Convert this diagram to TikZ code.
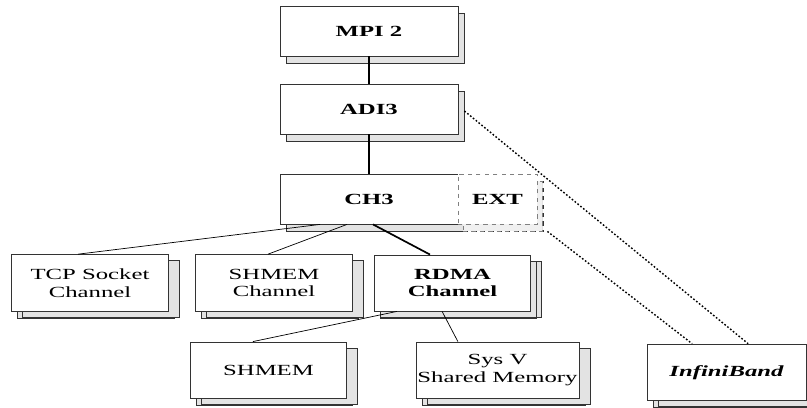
\documentclass[tikz,border=0pt]{standalone}
\usepackage{fontspec}
\setmainfont[FakeStretch=1.6]{Liberation Serif}
\usepackage{tikz}
\usetikzlibrary{shadows}

\begin{document}
\begin{tikzpicture}[
    unit/.style={
        rectangle, draw=black!80, fill=white,
        line width=0.6pt,
        minimum width=4.45cm,
        minimum height=1.25cm,
        align=center, inner sep=1pt,
        font=\fontsize{11}{12.5}\selectfont,
        general shadow={shadow xshift=0.15cm, shadow yshift=-0.175cm,
            fill=gray!22, draw=black!80, line width=0.6pt}
    },
    chan/.style={
        unit, minimum width=3.92cm, minimum height=1.42cm,
        general shadow={shadow xshift=0.275cm, shadow yshift=-0.15cm,
            fill=gray!22, draw=black!80, line width=0.6pt}
    },
    link/.style={line width=0.5pt},
    mainlink/.style={line width=1.2pt},
    hw/.style={line width=1pt, dash pattern=on 1.2pt off 1.4pt}
]
\useasboundingbox (0,0) rectangle (20.175,10.175);

\node[unit, font=\fontsize{11}{12.5}\selectfont\bfseries]
    (mpi) at (9.225,9.4) {MPI 2};
\node[unit, font=\fontsize{11}{12.5}\selectfont\bfseries]
    (adi) at (9.225,7.45) {ADI3};
\node[unit, font=\fontsize{11}{12.5}\selectfont\bfseries]
    (ch3) at (9.225,5.2) {CH3};
\node[unit, minimum width=1.975cm, draw=gray, dashed,
    font=\fontsize{11}{12.5}\selectfont\bfseries,
    general shadow={shadow xshift=0.125cm, shadow yshift=-0.175cm,
        fill=gray!12, draw=gray, dashed, line width=0.6pt}]
    (ext) at (12.4375,5.2) {EXT};

\node[chan] (tcp) at (2.25,3.1) {TCP Socket\\Channel};
\node[chan] (shmch) at (6.85,3.1) {SHMEM\\Channel};
\node[chan, minimum height=1.4cm,
    font=\fontsize{11}{12.5}\selectfont\bfseries,
    general shadow={shadow xshift=0.15cm, shadow yshift=-0.15cm,
        fill=gray!22, draw=black!80, line width=0.6pt}]
    (rdma) at (11.3125,3.1) {RDMA\\Channel};

\node[chan, minimum height=1.4cm] (shmem) at (6.7125,0.925) {SHMEM};
\node[chan, minimum height=1.4cm] (sysv) at (12.4375,0.925)
    {Sys V\\Shared Memory};
\node[chan, minimum width=3.975cm,
    font=\fontsize{11}{12.5}\selectfont\bfseries\itshape]
    (ib) at (18.1625,0.8625) {InfiniBand};

% upper layers
\foreach \a/\b in {mpi/adi,adi/ch3}{
    \draw[mainlink] (\a) -- (\b);
}

% channels below CH3
\draw[link] ([xshift=-1.225cm]ch3.south) -- ([xshift=-0.3cm]tcp.north);
\draw[link] ([xshift=-0.55cm]ch3.south) -- ([xshift=-0.15cm]shmch.north);
\draw[mainlink] ([xshift=0.1cm]ch3.south) -- ([xshift=-0.5625cm]rdma.north);
\draw[link] ([xshift=-1.39cm]rdma.south) -- ([xshift=-0.39cm]shmem.north);
\draw[link] ([xshift=-0.26cm]rdma.south) -- ([xshift=-0.99cm]sysv.north);

% InfiniBand device
\draw[hw] ([xshift=0.15cm,yshift=-0.05cm]adi.east) -- ([xshift=0.54cm]ib.north);
\draw[hw] ([xshift=0.25cm,yshift=-0.175cm]ext.south east) -- ([xshift=-0.86cm]ib.north);
\end{tikzpicture}
\end{document}
